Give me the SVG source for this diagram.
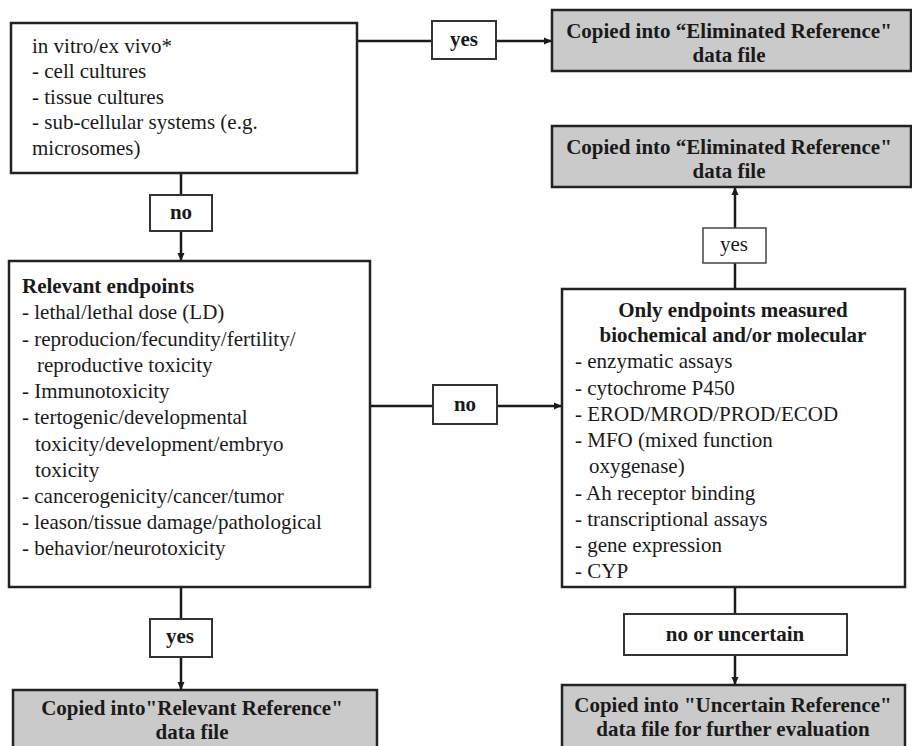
<svg xmlns="http://www.w3.org/2000/svg" width="912" height="746" viewBox="0 0 912 746">
<defs>
<marker id="ah" markerWidth="8" markerHeight="8" refX="7" refY="4" orient="auto" markerUnits="userSpaceOnUse">
<path d="M0,0.5 L8,4 L0,7.5 Z" fill="#1a1a1a"/>
</marker>
</defs>
<g id="connectors" stroke="#1a1a1a" stroke-width="2.5" fill="none">
<line x1="357" y1="41" x2="432" y2="41"/>
<line x1="496" y1="41" x2="551" y2="41" marker-end="url(#ah)"/>
<line x1="181" y1="173" x2="181" y2="195"/>
<line x1="181" y1="231" x2="181" y2="260" marker-end="url(#ah)"/>
<line x1="370" y1="406" x2="433" y2="406"/>
<line x1="497" y1="406" x2="561" y2="406" marker-end="url(#ah)"/>
<line x1="735" y1="289" x2="735" y2="263"/>
<line x1="735" y1="228" x2="735" y2="188" marker-end="url(#ah)"/>
<line x1="181" y1="587" x2="181" y2="619"/>
<line x1="181" y1="657" x2="181" y2="689" marker-end="url(#ah)"/>
<line x1="735" y1="587" x2="735" y2="614"/>
<line x1="735" y1="655" x2="735" y2="684" marker-end="url(#ah)"/>
</g>
<g id="nodes" font-family="Liberation Serif, Times New Roman, serif" font-size="21" fill="#1a1a1a">
<g id="invitro">
<rect x="11" y="23" width="346" height="150" fill="#fff" stroke="#222" stroke-width="2.5"/>
<text x="32" y="53">in vitro/ex vivo*</text>
<text x="32" y="78">- cell cultures</text>
<text x="32" y="104">- tissue cultures</text>
<text x="32" y="129">- sub-cellular systems (e.g.</text>
<text x="32" y="155">microsomes)</text>
</g>
<g id="yes1" font-weight="bold" text-anchor="middle">
<rect x="432" y="21" width="64" height="38" fill="#fff" stroke="#333" stroke-width="2"/>
<text x="464" y="46">yes</text>
</g>
<g id="elim1" font-weight="bold" text-anchor="middle">
<rect x="552" y="10" width="359" height="61" fill="#cacaca" stroke="#222" stroke-width="2.5"/>
<text x="729" y="38">Copied into “Eliminated Reference"</text>
<text x="729" y="62">data file</text>
</g>
<g id="no1" font-weight="bold" text-anchor="middle">
<rect x="150" y="195" width="62" height="36" fill="#fff" stroke="#333" stroke-width="2"/>
<text x="181" y="219">no</text>
</g>
<g id="elim2" font-weight="bold" text-anchor="middle">
<rect x="552" y="126" width="359" height="61" fill="#cacaca" stroke="#222" stroke-width="2.5"/>
<text x="729" y="154">Copied into “Eliminated Reference"</text>
<text x="729" y="178">data file</text>
</g>
<g id="yes2" text-anchor="middle">
<rect x="703" y="228" width="63" height="35" fill="#fff" stroke="#444" stroke-width="1.5"/>
<text x="734" y="251">yes</text>
</g>
<g id="relevant">
<rect x="9" y="261" width="361" height="326" fill="#fff" stroke="#222" stroke-width="2.5"/>
<text x="22" y="293" font-weight="bold">Relevant endpoints</text>
<text x="22" y="319">- lethal/lethal dose (LD)</text>
<text x="22" y="346">- reproducion/fecundity/fertility/</text>
<text x="37" y="372">reproductive toxicity</text>
<text x="22" y="398">- Immunotoxicity</text>
<text x="22" y="424">- tertogenic/developmental</text>
<text x="35" y="451">toxicity/development/embryo</text>
<text x="35" y="477">toxicity</text>
<text x="22" y="503">- cancerogenicity/cancer/tumor</text>
<text x="22" y="529">- leason/tissue damage/pathological</text>
<text x="22" y="555">- behavior/neurotoxicity</text>
</g>
<g id="no2" font-weight="bold" text-anchor="middle">
<rect x="433" y="385" width="64" height="39" fill="#fff" stroke="#333" stroke-width="2"/>
<text x="465" y="411">no</text>
</g>
<g id="biochem">
<rect x="562" y="289" width="343" height="298" fill="#fff" stroke="#222" stroke-width="2.5"/>
<text x="733" y="317" font-weight="bold" text-anchor="middle">Only endpoints measured</text>
<text x="733" y="342" font-weight="bold" text-anchor="middle">biochemical and/or molecular</text>
<text x="575" y="368">- enzymatic assays</text>
<text x="575" y="395">- cytochrome P450</text>
<text x="575" y="421">- EROD/MROD/PROD/ECOD</text>
<text x="575" y="447">- MFO (mixed function</text>
<text x="589" y="473">oxygenase)</text>
<text x="575" y="500">- Ah receptor binding</text>
<text x="575" y="526">- transcriptional assays</text>
<text x="575" y="552">- gene expression</text>
<text x="575" y="578">- CYP</text>
</g>
<g id="yes3" font-weight="bold" text-anchor="middle">
<rect x="150" y="619" width="62" height="38" fill="#fff" stroke="#333" stroke-width="2"/>
<text x="180" y="643">yes</text>
</g>
<g id="relref" font-weight="bold" text-anchor="middle">
<rect x="13" y="690" width="364" height="70" fill="#cacaca" stroke="#222" stroke-width="2.5"/>
<text x="192" y="715">Copied into"Relevant Reference"</text>
<text x="192" y="739">data file</text>
</g>
<g id="nouncertain" font-weight="bold" text-anchor="middle">
<rect x="624" y="614" width="223" height="41" fill="#fff" stroke="#333" stroke-width="2"/>
<text x="735" y="641">no or uncertain</text>
</g>
<g id="uncertain" font-weight="bold" text-anchor="middle">
<rect x="562" y="685" width="343" height="75" fill="#cacaca" stroke="#222" stroke-width="2.5"/>
<text x="733" y="712">Copied into "Uncertain Reference"</text>
<text x="733" y="736">data file for further evaluation</text>
</g>
</g>
</svg>
